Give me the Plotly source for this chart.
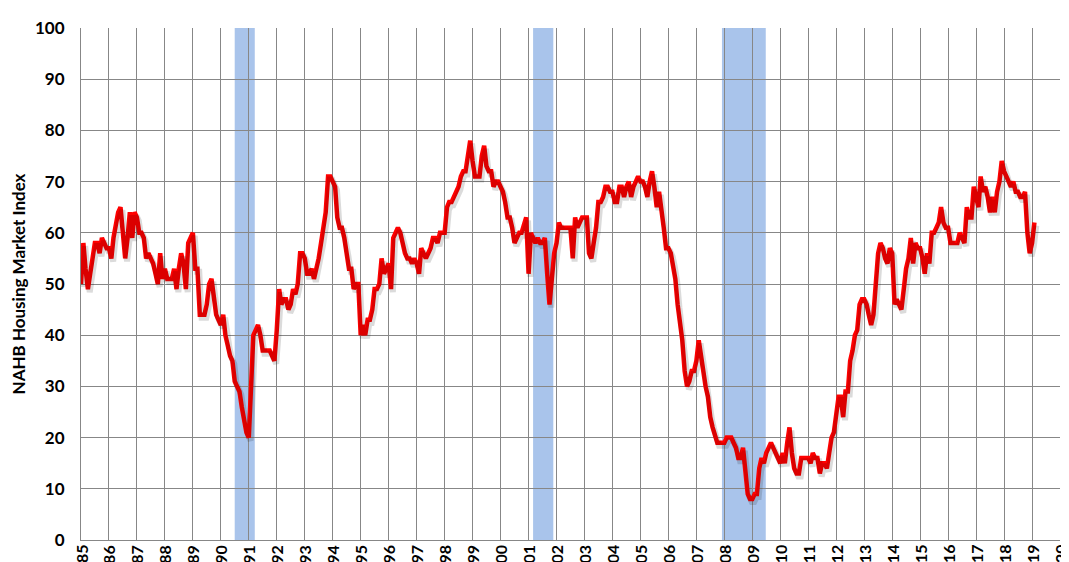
import pandas as pd
import plotly.graph_objects as go

# NAHB Housing Market Index, monthly values by year (Jan..Dec)
h1985 = [50, 58, 53, 49, 52, 55, 58, 58, 56, 59, 58, 57]
h1986 = [57, 55, 59, 62, 64, 65, 60, 55, 59, 64, 59, 64]
h1987 = [63, 60, 60, 59, 55, 56, 55, 54, 52, 50, 56, 51]
h1988 = [53, 51, 51, 51, 53, 49, 53, 56, 54, 49, 58, 59]
h1989 = [60, 53, 53, 44, 44, 44, 46, 50, 51, 47, 44, 43]
h1990 = [42, 44, 40, 38, 36, 35, 31, 30, 29, 26, 23, 21]
h1991 = [20, 31, 40, 41, 42, 40, 37, 37, 37, 37, 36, 35]
h1992 = [41, 49, 46, 47, 47, 45, 46, 49, 48, 50, 56, 56]
h1993 = [55, 52, 52, 53, 51, 53, 55, 58, 61, 64, 71, 71]
h1994 = [70, 69, 63, 61, 61, 59, 56, 53, 53, 49, 50, 50]
h1995 = [40, 42, 40, 43, 43, 45, 49, 49, 50, 55, 52, 53]
h1996 = [54, 49, 59, 60, 61, 60, 58, 56, 55, 55, 54, 55]
h1997 = [54, 52, 57, 56, 55, 56, 57, 59, 59, 58, 60, 60]
h1998 = [60, 65, 66, 66, 67, 68, 69, 71, 72, 72, 75, 78]
h1999 = [74, 71, 71, 71, 75, 77, 73, 72, 72, 69, 70, 70]
h2000 = [69, 68, 66, 63, 63, 61, 58, 59, 60, 60, 62, 63]
h2001 = [52, 60, 59, 58, 59, 58, 58, 59, 52, 46, 51, 56]
h2002 = [58, 62, 61, 61, 61, 61, 61, 55, 63, 61, 62, 63]
h2003 = [63, 63, 56, 55, 58, 61, 66, 66, 67, 69, 69, 68]
h2004 = [68, 66, 66, 69, 69, 67, 69, 70, 67, 69, 70, 71]
h2005 = [70, 70, 69, 67, 70, 72, 69, 65, 68, 65, 61, 57]
h2006 = [57, 56, 54, 51, 46, 42, 39, 33, 30, 31, 33, 33]
h2007 = [35, 39, 36, 33, 30, 28, 24, 22, 20, 19, 19, 19]
h2008 = [19, 20, 20, 20, 19, 18, 16, 16, 18, 14, 9, 8]
h2009 = [8, 9, 9, 14, 16, 15, 17, 18, 19, 18, 17, 16]
h2010 = [15, 17, 15, 19, 22, 17, 14, 13, 13, 16, 16, 16]
h2011 = [16, 15, 17, 16, 16, 13, 15, 15, 14, 17, 20, 21]
h2012 = [25, 28, 28, 24, 29, 29, 35, 37, 40, 41, 46, 47]
h2013 = [47, 46, 44, 42, 44, 51, 56, 58, 57, 55, 54, 57]
h2014 = [56, 46, 47, 46, 45, 49, 53, 55, 59, 54, 58, 57]
h2015 = [57, 55, 52, 56, 54, 60, 60, 61, 62, 65, 62, 61]
h2016 = [61, 58, 58, 58, 58, 60, 59, 58, 65, 63, 63, 69]
h2017 = [67, 65, 71, 68, 69, 67, 64, 67, 64, 68, 70, 74]
h2018 = [72, 71, 70, 69, 70, 68, 68, 67, 67, 68, 60, 56]
h2019 = [58, 62]

series_by_year = [h1985, h1986, h1987, h1988, h1989, h1990, h1991, h1992, h1993,
                  h1994, h1995, h1996, h1997, h1998, h1999, h2000, h2001, h2002,
                  h2003, h2004, h2005, h2006, h2007, h2008, h2009, h2010, h2011,
                  h2012, h2013, h2014, h2015, h2016, h2017, h2018, h2019]
hmi = [v for yr in series_by_year for v in yr]
dates = pd.date_range("1985-01-01", periods=len(hmi), freq="MS")

# Recessions (start, end)
recession_start = ["1990-07-01", "2001-03-01", "2007-12-01"]
recession_end = ["1991-03-20", "2001-11-20", "2009-06-25"]

# Axis ticks
year_ticks = [f"{y}-01-01" for y in range(1985, 2021)]
year_labels = [str(y) for y in range(1985, 2021)]
y_ticks = [0, 10, 20, 30, 40, 50, 60, 70, 80, 90, 100]

grid = "#878787"
font_family = "Lato, 'Open Sans', sans-serif"

fig = go.Figure()

# soft drop shadow of the line (same data, on a slightly offset overlay axis)
fig.add_trace(go.Scatter(
    x=dates, y=hmi, mode="lines", xaxis="x2", yaxis="y2",
    line=dict(color="rgba(0,0,0,0.14)", width=6),
    hoverinfo="skip", showlegend=False))

fig.add_trace(go.Scatter(
    x=dates, y=hmi, mode="lines",
    line=dict(color="#FF0000", width=4.5),
    name="NAHB HMI", showlegend=False))

for s, e in zip(recession_start, recession_end):
    fig.add_shape(type="rect", xref="x", yref="paper", x0=s, x1=e, y0=0, y1=1,
                  fillcolor="#A9C4EB", line=dict(width=0), layer="below")

# rotated year labels just under the axis (cut by the picture's bottom edge)
for tv, tl in zip(year_ticks, year_labels):
    fig.add_annotation(x=tv, y=0, xref="x", yref="paper", text=tl,
                       showarrow=False, textangle=-90, xanchor="center",
                       yanchor="top", yshift=-3,
                       font=dict(size=16, family=font_family, weight="bold",
                                 color="black"))

shift_days = pd.Timedelta(days=24)
x0 = pd.Timestamp("1985-01-01")
x1 = pd.Timestamp("2020-01-01")

fig.update_layout(
    width=1061, height=554,
    margin=dict(l=73, r=9, t=20, b=22),
    paper_bgcolor="white", plot_bgcolor="white",
    font=dict(family=font_family, color="black"),
    xaxis=dict(
        range=[x0, x1], tickmode="array", tickvals=year_ticks,
        showticklabels=False, showgrid=True, gridcolor=grid, gridwidth=1,
        showline=True, linecolor=grid, linewidth=1, zeroline=False,
        ticks="", automargin=False),
    yaxis=dict(
        range=[0, 100], tickmode="array", tickvals=y_ticks,
        showgrid=True, gridcolor=grid, gridwidth=1,
        showline=True, linecolor=grid, linewidth=1, zeroline=False,
        ticks="", ticklabelstandoff=12,
        tickfont=dict(size=17, family=font_family, weight="bold"),
        title=dict(text="NAHB Housing Market Index", standoff=7,
                   font=dict(size=17, family=font_family, weight="bold")),
        automargin=False),
    xaxis2=dict(range=[x0 - shift_days, x1 - shift_days], overlaying="x",
                visible=False, showgrid=False),
    yaxis2=dict(range=[0.6, 100.6], overlaying="y", visible=False, showgrid=False),
)

fig.write_html("out.html")
